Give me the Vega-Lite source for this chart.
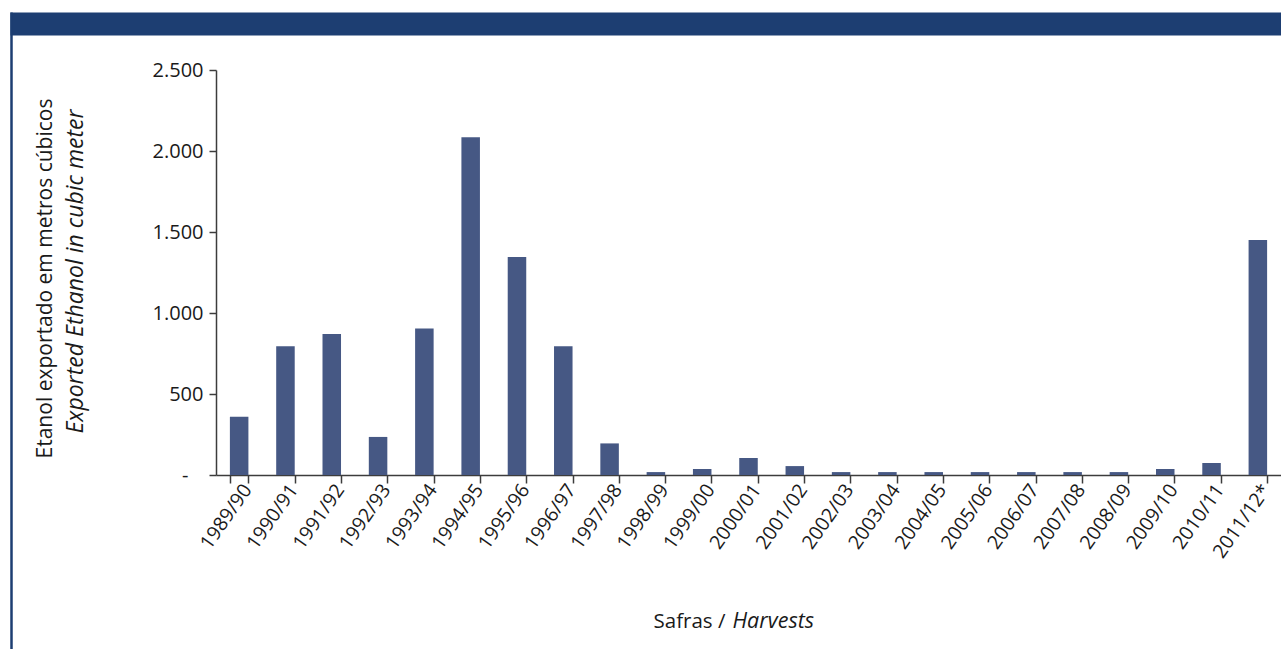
{
  "$schema": "https://vega.github.io/schema/vega-lite/v6.json",
  "width": 1065,
  "height": 405,
  "autosize": {"type": "none"},
  "padding": {"left": 216, "top": 70, "right": 0, "bottom": 174},
  "background": "white",
  "config": {"view": {"stroke": null}, "font": "Open Sans"},
  "data": {
    "values": [
      {"safra": "1989/90", "volume": 360},
      {"safra": "1990/91", "volume": 795},
      {"safra": "1991/92", "volume": 870},
      {"safra": "1992/93", "volume": 235},
      {"safra": "1993/94", "volume": 905},
      {"safra": "1994/95", "volume": 2085},
      {"safra": "1995/96", "volume": 1345},
      {"safra": "1996/97", "volume": 795},
      {"safra": "1997/98", "volume": 195},
      {"safra": "1998/99", "volume": 18},
      {"safra": "1999/00", "volume": 37},
      {"safra": "2000/01", "volume": 105},
      {"safra": "2001/02", "volume": 55},
      {"safra": "2002/03", "volume": 18},
      {"safra": "2003/04", "volume": 18},
      {"safra": "2004/05", "volume": 18},
      {"safra": "2005/06", "volume": 18},
      {"safra": "2006/07", "volume": 18},
      {"safra": "2007/08", "volume": 18},
      {"safra": "2008/09", "volume": 18},
      {"safra": "2009/10", "volume": 37},
      {"safra": "2010/11", "volume": 74},
      {"safra": "2011/12*", "volume": 1450}
    ]
  },
  "layer": [
    {
      "mark": {"type": "bar", "color": "#465884"},
      "encoding": {
        "x": {
          "field": "safra", "type": "nominal", "sort": null,
          "scale": {"paddingInner": 0.6, "paddingOuter": 0.3},
          "axis": {
            "title": "Safras /", "titleX": 437, "titleY": 146, "titleAlign": "left", "titleBaseline": "middle",
            "titleFontSize": 20.5, "titleFontWeight": "normal", "titleColor": "#1a1a1a",
            "labelAngle": -55, "labelFontSize": 19.5, "labelColor": "#1a1a1a", "labelPadding": 3, "labelOffset": 8,
            "tickBand": "extent", "tickSize": 8, "tickColor": "#3c3c3c", "tickWidth": 1.5,
            "domainColor": "#3c3c3c", "domainWidth": 1.5
          }
        },
        "y": {
          "field": "volume", "type": "quantitative",
          "scale": {"domain": [0, 2500], "nice": false},
          "axis": {
            "values": [0, 500, 1000, 1500, 2000, 2500],
            "labelExpr": "datum.value == 0 ? '-' : replace(format(datum.value, ','), ',', '.')",
            "labelPadding": {"condition": {"test": "datum.value == 0", "value": 21}, "value": 6},
            "grid": false, "tickSize": 7, "labelFontSize": 20, "labelColor": "#1a1a1a",
            "tickColor": "#3c3c3c", "tickWidth": 1.5, "domainColor": "#3c3c3c", "domainWidth": 1.5,
            "title": "Etanol exportado em metros cúbicos", "titleX": -171, "titleY": 208, "titleAngle": -90,
            "titleAlign": "center", "titleBaseline": "middle", "titleFontSize": 21, "titleFontWeight": "normal",
            "titleColor": "#1a1a1a"
          }
        }
      }
    },
    {
      "mark": {"type": "bar", "opacity": 0},
      "encoding": {
        "x": {
          "field": "safra", "type": "nominal", "sort": null,
          "scale": {"range": [-206, 1065]},
          "axis": {
            "orient": "top", "offset": 46.5, "domainWidth": 23, "domainColor": "#1d3e72",
            "labels": false, "ticks": false,
            "title": "Harvests", "titleFontStyle": "italic", "titleX": 516, "titleY": 597.5,
            "titleAlign": "left", "titleBaseline": "middle", "titleFontSize": 21.5, "titleFontWeight": "normal",
            "titleColor": "#1a1a1a"
          }
        },
        "y": {
          "field": "volume", "type": "quantitative",
          "scale": {"range": [579, -58]},
          "axis": {
            "orient": "left", "offset": 205, "domainWidth": 2.5, "domainColor": "#1d3e72",
            "labels": false, "ticks": false, "grid": false,
            "title": "Exported Ethanol in cubic meter", "titleFontStyle": "italic", "titleX": 64, "titleY": 201,
            "titleAngle": -90, "titleAlign": "center", "titleBaseline": "middle", "titleFontSize": 23,
            "titleFontWeight": "normal", "titleColor": "#1a1a1a"
          }
        }
      }
    }
  ],
  "resolve": {
    "scale": {"x": "independent", "y": "independent"},
    "axis": {"x": "independent", "y": "independent"}
  }
}
